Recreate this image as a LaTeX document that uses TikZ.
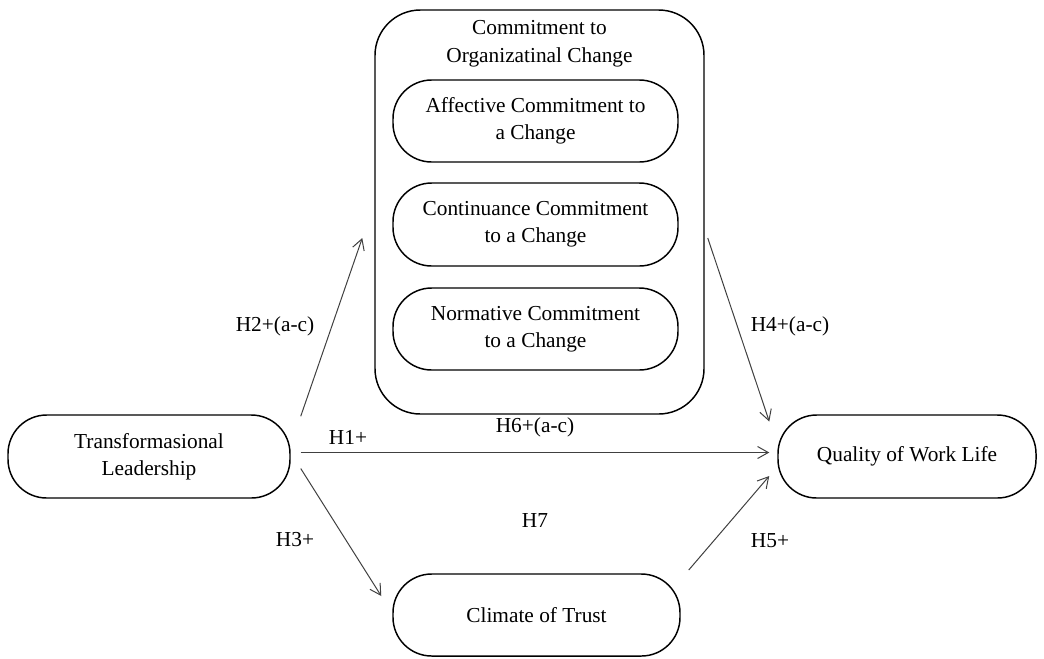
\documentclass[tikz,border=0pt]{standalone}
\usepackage{fontspec}
\setmainfont{Liberation Serif}
\usepackage{tikz}
\usetikzlibrary{arrows.meta, positioning, calc}
\definecolor{arrcol}{RGB}{64,64,64}

\begin{document}
\begin{tikzpicture}[
  x=0.75pt, y=-0.75pt,
  var/.style={rectangle, draw, line width=1.1pt, rounded corners=29pt,
              align=center, font=\fontsize{16}{20.5}\selectfont},
  grp/.style={rectangle, draw, line width=1.1pt, rounded corners=34pt,
              minimum width=246.75pt, minimum height=303pt},
  hyp/.style={font=\fontsize{16}{20.5}\selectfont},
  arr/.style={-{Straight Barb[length=8pt, width=9pt]}, arrcol, line width=0.75pt},
]
\useasboundingbox (0,0) rectangle (1044,658);

% Constructs
\node[var, minimum width=211.5pt, minimum height=62.25pt] (tl) at (149,456.5)
  {Transformasional\\Leadership};
\node[var, minimum width=193.5pt, minimum height=62.25pt] (qwl) at (907,456.5)
  {Quality of Work Life};
\node[var, minimum width=215.25pt, minimum height=61.5pt] (ct) at (536.5,615)
  {Climate of Trust};

% Commitment to organizational change
\node[grp] (occ) at (539.5,212) {};
\node[hyp, align=center, below=5pt of occ.north] (occt)
  {Commitment to\\Organizatinal Change};
\node[var, minimum width=213.75pt, minimum height=61.5pt] (acc) at (535.5,121)
  {Affective Commitment to\\a Change};
\node[var, minimum width=213.75pt, minimum height=62.25pt] (ccc) at (535.5,224.5)
  {Continuance Commitment\\to a Change};
\node[var, minimum width=213.75pt, minimum height=61.5pt] (ncc) at (535.5,329)
  {Normative Commitment\\to a Change};

% Paths
\draw[arr] ($(tl.north east)+(10,2)$) -- ($(occ.west)+(-12,26)$);
\draw[arr] ($(tl.east)+(10,-4)$) -- ($(qwl.west)+(-8,-4)$);
\draw[arr] ($(tl.east)+(10,12)$) -- ($(ct.west)+(-11,-19)$);
\draw[arr] ($(occ.east)+(3,26)$) -- ($(qwl.west)+(-8,-35)$);
\draw[arr] ($(ct.east)+(8,-45)$) -- ($(qwl.west)+(-8,19.5)$);

% Hypotheses
\node[hyp] (h2) at (275,326) {H2+(a-c)};
\node[hyp] (h1) at (348,437) {H1+};
\node[hyp] (h6) at (535,427) {H6+(a-c)};
\node[hyp] (h7) at (535,521) {H7};
\node[hyp] (h3) at (295,540) {H3+};
\node[hyp] (h4) at (790,326) {H4+(a-c)};
\node[hyp] (h5) at (770,541) {H5+};
\end{tikzpicture}
\end{document}
